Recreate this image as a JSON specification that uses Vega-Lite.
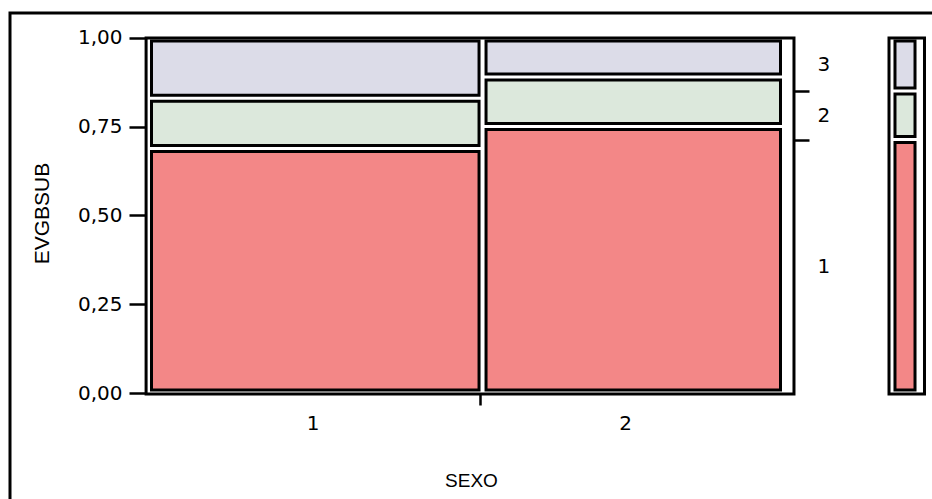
{
  "$schema": "https://vega.github.io/schema/vega-lite/v6.json",
  "width": 922,
  "height": 486,
  "autosize": {"type": "none"},
  "padding": {"left": 10, "top": 13, "right": 0, "bottom": 0},
  "background": "white",
  "datasets": {
    "cells": [
      {"sexo": "1", "evgbsub": "1", "p": 0.689, "w": 0.526},
      {"sexo": "1", "evgbsub": "2", "p": 0.141, "w": 0.526},
      {"sexo": "1", "evgbsub": "3", "p": 0.170, "w": 0.526},
      {"sexo": "2", "evgbsub": "1", "p": 0.751, "w": 0.474},
      {"sexo": "2", "evgbsub": "2", "p": 0.139, "w": 0.474},
      {"sexo": "2", "evgbsub": "3", "p": 0.110, "w": 0.474}
    ],
    "margin": [
      {"evgbsub": "1", "p": 0.714},
      {"evgbsub": "2", "p": 0.137},
      {"evgbsub": "3", "p": 0.149}
    ],
    "one": [{}]
  },
  "config": {
    "view": {"stroke": "black", "strokeWidth": 3, "strokeDash": [922, 1408, 486]},
    "axis": {
      "grid": false,
      "domain": false,
      "labelFont": "DejaVu Sans",
      "labelFontSize": 20,
      "labelColor": "black",
      "titleFont": "Liberation Sans",
      "titleFontSize": 20,
      "titleFontWeight": "normal",
      "titleColor": "black",
      "tickColor": "black",
      "tickWidth": 2.5,
      "labelOverlap": false,
      "labelFlush": false,
      "labelBound": false
    }
  },
  "resolve": {"axis": {"y": "independent"}},
  "layer": [
    {
      "data": {"name": "cells"},
      "transform": [
        {"stack": "p", "groupby": ["sexo"], "sort": [{"field": "evgbsub"}], "as": ["y0", "y1"]},
        {"stack": "w", "groupby": ["evgbsub"], "sort": [{"field": "sexo"}], "as": ["x0", "x1"]}
      ],
      "mark": {"type": "rect", "stroke": "black", "strokeWidth": 3, "strokeJoin": "miter", "xOffset": 3.5, "x2Offset": -3.5, "yOffset": 3, "y2Offset": -3},
      "encoding": {
        "x": {
          "field": "x0", "type": "quantitative",
          "scale": {"domain": [-0.21698, 1.2327], "nice": false, "zero": false},
          "axis": {
            "orient": "bottom",
            "offset": -105,
            "values": [0.259, 0.522, 0.75],
            "tickSize": 11,
            "labelPadding": 8,
            "labelExpr": "datum.value < 0.4 ? '1' : (datum.value > 0.6 ? '2' : '')",
            "tickOpacity": {"condition": {"test": "datum.value > 0.4 && datum.value < 0.6", "value": 1}, "value": 0},
            "title": "SEXO",
            "titleFont": "Liberation Sans",
            "titleFontSize": 19,
            "titlePadding": 38
          }
        },
        "x2": {"field": "x1"},
        "y": {
          "field": "y1", "type": "quantitative",
          "scale": {"domain": [-0.29859, 1.07042], "nice": false, "zero": false},
          "axis": {
            "orient": "left",
            "offset": -136,
            "values": [0, 0.25, 0.5, 0.75, 1],
            "tickSize": 17,
            "labelPadding": 7,
            "labelExpr": "replace(format(datum.value, '.2f'), '.', ',')",
            "title": "EVGBSUB",
            "titleFont": "Liberation Sans",
            "titleFontSize": 21,
            "titleY": 200,
            "titlePadding": 25
          }
        },
        "y2": {"field": "y0"},
        "color": {
          "field": "evgbsub", "type": "nominal",
          "scale": {"domain": ["1", "2", "3"], "range": ["#f38787", "#dce8dc", "#dcdce8"]},
          "legend": null
        }
      }
    },
    {
      "data": {"name": "margin"},
      "transform": [
        {"stack": "p", "groupby": [], "sort": [{"field": "evgbsub"}], "as": ["m0", "m1"]}
      ],
      "mark": {"type": "rect", "stroke": "black", "strokeWidth": 3, "strokeJoin": "miter", "xOffset": 3.5, "x2Offset": -3.5, "yOffset": 3, "y2Offset": -3},
      "encoding": {
        "x": {"datum": 1.169, "type": "quantitative", "scale": {"domain": [-0.21698, 1.2327], "nice": false, "zero": false}},
        "x2": {"datum": 1.2115},
        "y": {
          "field": "m1", "type": "quantitative",
          "scale": {"domain": [-0.29859, 1.07042], "nice": false, "zero": false},
          "axis": {
            "orient": "right",
            "offset": -138,
            "values": [0.357, 0.714, 0.7825, 0.851, 0.9255],
            "tickSize": 15,
            "labelPadding": 8,
            "labelExpr": "datum.value == 0.357 ? '1' : (datum.value == 0.7825 ? '2' : (datum.value == 0.9255 ? '3' : ''))",
            "tickOpacity": {"condition": {"test": "datum.value == 0.714 || datum.value == 0.851", "value": 1}, "value": 0},
            "title": null
          }
        },
        "y2": {"field": "m0"},
        "color": {"field": "evgbsub", "type": "nominal", "legend": null}
      }
    },
    {
      "data": {"name": "one"},
      "mark": {"type": "rect", "fill": null, "stroke": "black", "strokeWidth": 3, "strokeJoin": "miter"},
      "encoding": {
        "x": {"datum": -0.003, "type": "quantitative", "scale": {"domain": [-0.21698, 1.2327], "nice": false, "zero": false}},
        "x2": {"datum": 1.0157},
        "y": {"datum": 1.0, "type": "quantitative", "scale": {"domain": [-0.29859, 1.07042], "nice": false, "zero": false}, "axis": null},
        "y2": {"datum": -0.003}
      }
    },
    {
      "data": {"name": "one"},
      "mark": {"type": "rect", "fill": null, "stroke": "black", "strokeWidth": 3, "strokeJoin": "miter"},
      "encoding": {
        "x": {"datum": 1.1651, "type": "quantitative", "scale": {"domain": [-0.21698, 1.2327], "nice": false, "zero": false}},
        "x2": {"datum": 1.2209},
        "y": {"datum": 1.0, "type": "quantitative", "scale": {"domain": [-0.29859, 1.07042], "nice": false, "zero": false}, "axis": null},
        "y2": {"datum": -0.003}
      }
    }
  ]
}
